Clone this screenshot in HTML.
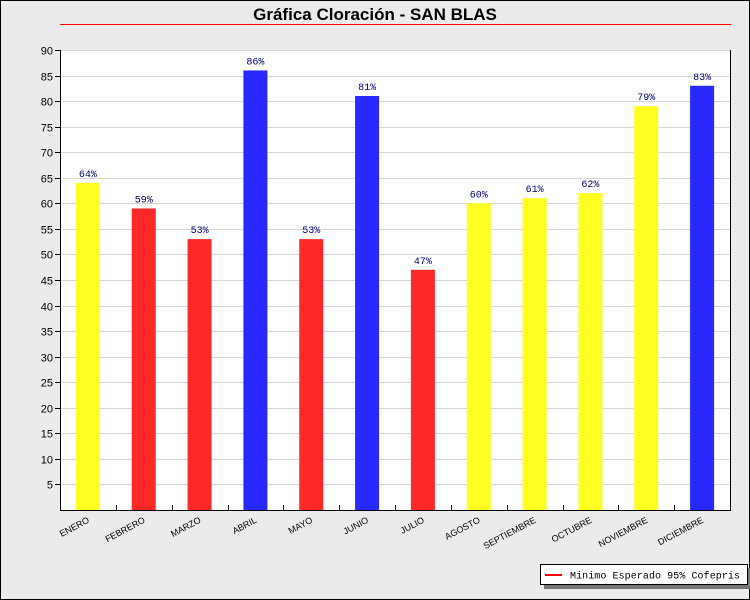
<!DOCTYPE html>
<html><head><meta charset="utf-8"><style>
html,body{margin:0;padding:0;background:#ececec;}
svg{display:block;}
</style></head><body>
<svg width="750" height="600" xmlns="http://www.w3.org/2000/svg">
<rect x="0.5" y="0.5" width="749" height="599" fill="#ebebeb" stroke="#000"/>
<text x="375" y="20" text-anchor="middle" font-family="Liberation Sans, sans-serif" font-weight="bold" font-size="17">Gráfica Cloración - SAN BLAS</text>
<line x1="60" y1="24.5" x2="731" y2="24.5" stroke="#ff0000" stroke-width="1"/>
<rect x="60" y="50" width="671" height="460" fill="#fff"/>
<g id="grid" stroke="#d8d8d8" stroke-width="1"></g>
<g id="bars"></g>
<line x1="60.5" y1="50" x2="60.5" y2="511" stroke="#000"/>
<line x1="730.5" y1="50" x2="730.5" y2="511" stroke="#000"/>
<line x1="60" y1="510.5" x2="731" y2="510.5" stroke="#000"/>
<g id="ticks"></g>
<rect x="544" y="568" width="207" height="21" fill="#777"/>
<rect x="540.5" y="564.5" width="207" height="20" fill="#fff" stroke="#000"/>
<line x1="545" y1="575" x2="562" y2="575" stroke="#ff0000" stroke-width="2"/>
<text x="570" y="578.5" font-family="Liberation Mono, monospace" font-size="10" textLength="170">Minimo Esperado 95% Cofepris</text>
<script>
var ns="http://www.w3.org/2000/svg";
function el(t,a,p,txt){var e=document.createElementNS(ns,t);for(var k in a)e.setAttribute(k,a[k]);if(txt)e.textContent=txt;document.getElementById(p)?document.getElementById(p).appendChild(e):p.appendChild(e);return e;}
var Y=function(v){return 510-v*460/90;};
for(var v=5;v<=90;v+=5){var y=Math.round(Y(v))+0.5;
el("line",{x1:61,y1:y,x2:730,y2:y},"grid");
el("line",{x1:55,y1:y,x2:60,y2:y,stroke:"#000"},"ticks");
el("text",{x:53,y:y+4,"text-anchor":"end","font-family":"Liberation Sans, sans-serif","font-size":"11"},"ticks",String(v));}
var d=[["ENERO",64,"#ffff22"],["FEBRERO",59,"#ff2828"],["MARZO",53,"#ff2828"],["ABRIL",86,"#2828ff"],["MAYO",53,"#ff2828"],["JUNIO",81,"#2828ff"],["JULIO",47,"#ff2828"],["AGOSTO",60,"#ffff22"],["SEPTIEMBRE",61,"#ffff22"],["OCTUBRE",62,"#ffff22"],["NOVIEMBRE",79,"#ffff22"],["DICIEMBRE",83,"#2828ff"]];
var cw=670/12;
d.forEach(function(r,i){var c=60+cw*(i+0.5);var y=Y(r[1]);
el("rect",{x:c-12,y:y,width:24,height:510-y,fill:r[2]},"bars");
el("text",{x:c,y:y-6,"text-anchor":"middle","font-family":"Liberation Mono, monospace","font-size":"10","fill":"#000080"},"bars",r[1]+"%");
if(i>0){var tx=Math.round(60+cw*i)+0.5;el("line",{x1:tx,y1:505,x2:tx,y2:510,stroke:"#000"},"ticks");}
el("text",{x:0,y:0,"text-anchor":"end","font-family":"Liberation Sans, sans-serif","font-size":"9",transform:"translate("+(c+2)+",522) rotate(-28)"},"ticks",r[0]);
});
</script>
</svg>
</body></html>
